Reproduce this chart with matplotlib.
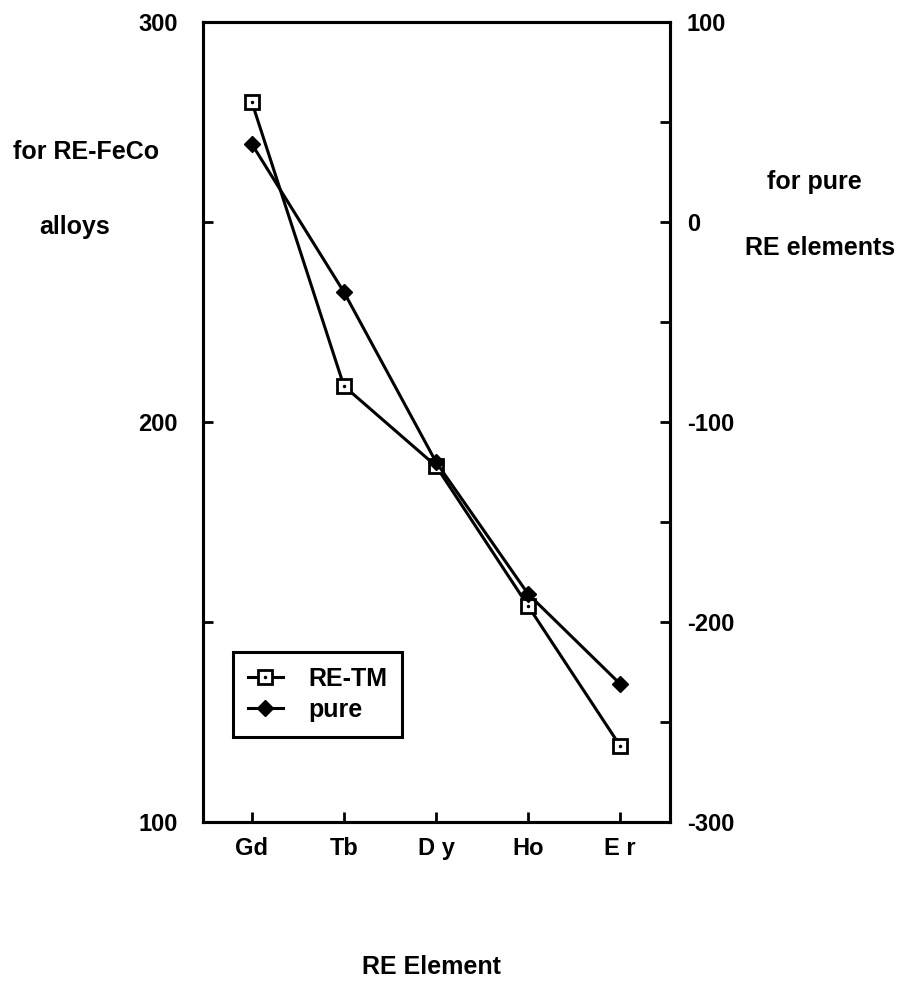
import numpy as np
import matplotlib.pyplot as plt

plt.rcParams['font.family'] = ['Liberation Sans', 'DejaVu Sans']
plt.rcParams['font.weight'] = 'bold'

# valores
elementos = ['Gd', 'Tb', 'D y', 'Ho', 'E r']
re_tm = [280, 209, 189, 154, 119]        # eje izquierdo (aleaciones RE-FeCo)
puro = [39, -35, -120, -186, -231]       # eje derecho (RE puros)

x = np.arange(len(elementos))

fig = plt.figure(figsize=(9.05, 9.82), dpi=100)
ax = fig.add_axes([0.2243, 0.1629, 0.516, 0.8147])
ax2 = ax.twinx()

l1, = ax.plot(x, re_tm, color='k', lw=2.2, marker='s', ms=10, mfc='white',
              mec='k', mew=2, zorder=3)
d1, = ax.plot(x, re_tm, ls='none', marker='.', ms=3, color='k', zorder=4)
l2, = ax2.plot(x, puro, color='k', lw=2.2, marker='D', ms=8, mfc='k', mec='k')

ax.set_xlim(-0.53, 4.54)
ax.set_ylim(100, 300)
ax2.set_ylim(-300, 100)

ax.set_xticks(x)
ax.set_xticklabels(elementos)
ax.set_yticks([100, 150, 200, 250, 300])
ax.set_yticklabels(['100', '', '200', '', '300'])
ax2.set_yticks([-300, -250, -200, -150, -100, -50, 0, 50, 100])
ax2.set_yticklabels(['-300', '', '-200', '', '-100', '', '0', '', '100'])

for a in (ax, ax2):
    for s in a.spines.values():
        s.set_linewidth(2.2)
ax.tick_params(axis='x', direction='in', length=7, width=2, labelsize=17, pad=11)
ax.tick_params(axis='y', direction='in', length=7, width=2, labelsize=17, pad=18)
ax2.tick_params(axis='y', direction='in', length=7, width=2, labelsize=17, pad=12)
ax.tick_params(top=False)

leg = ax.legend([(l1, d1), l2], ['RE-TM', 'pure'], loc='lower left',
                bbox_to_anchor=(0.064, 0.106), fontsize=18, frameon=True,
                fancybox=False, edgecolor='k', framealpha=1, handlelength=1.4,
                handletextpad=1.0, labelspacing=0.3, borderpad=0.6,
                borderaxespad=0)
leg.get_frame().set_linewidth(2.2)

fig.text(0.095, 0.845, 'for RE-FeCo', ha='center', va='center', fontsize=18)
fig.text(0.082, 0.769, 'alloys', ha='center', va='center', fontsize=18)
fig.text(0.900, 0.8147, 'for pure', ha='center', va='center', fontsize=18)
fig.text(0.906, 0.7475, 'RE elements', ha='center', va='center', fontsize=18)
fig.text(0.477, 0.0153, 'RE Element', ha='center', va='center', fontsize=18)

plt.savefig('out.png', dpi=100)
